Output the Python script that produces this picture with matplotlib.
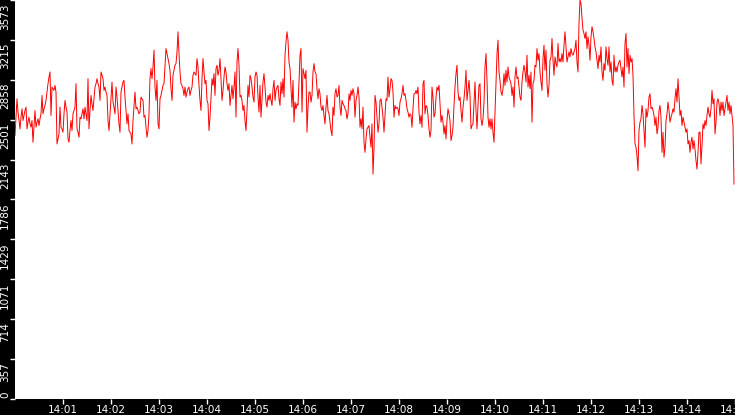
import matplotlib
matplotlib.use("Agg")
import matplotlib.pyplot as plt
import matplotlib.dates as mdates
import matplotlib.transforms as mtransforms
import numpy as np
import pandas as pd

# samples every 1.25 s starting 14:00:00, split in chunks to keep it readable
chunk1 = [2358, 2523, 2688, 2568, 2493, 2418, 2523, 2598, 2493, 2538,
          2583, 2613, 2418, 2478, 2523, 2463, 2433, 2493, 2298, 2448,
          2583, 2433, 2478, 2508, 2448, 2508, 2553, 2718, 2553, 2598,
          2628, 2673, 2748, 2823, 2883, 2928, 2538, 2793, 2778, 2763,
          2808, 2748, 2283, 2328, 2373, 2613, 2433, 2418, 2388, 2553,
          2673, 2613, 2568, 2328, 2298, 2403, 2493, 2403, 2553, 2583,
          2613, 2823, 2418, 2388, 2343, 2523, 2508, 2553, 2598, 2508,
          2613, 2553, 2493, 2868, 2418, 2583, 2718, 2643, 2583, 2688,
          2793, 2823, 2868, 2823, 2793, 2673, 2928, 2898, 2868, 2763,
          2793, 2748, 2718, 2493, 2403, 2553, 2688, 2838, 2658, 2613,
          2553, 2793, 2703, 2583, 2463, 2388, 2748, 2793, 2838, 2853,
          2703, 2583, 2463, 2553, 2403, 2388, 2373, 2283, 2493, 2628,
          2748, 2598, 2613, 2583, 2553, 2568, 2703, 2688, 2673, 2523,
          2538, 2433, 2343, 2403, 2553, 2868, 2958, 2868, 2973, 3123,
          2793, 2673, 2853, 2463, 2418, 2688, 2718, 2763, 2808, 2823,
          2973, 3138, 3093, 3048, 3003, 2943, 2778, 2673, 2898, 2943,
          2988, 3003, 3108, 3288, 3093, 2928, 2823, 2808, 2778, 2718,
          2793, 2703, 2748, 2778, 2793, 2718, 2763, 2793, 2898, 2928,
          2913, 2898, 3048, 2973, 2808]
chunk2 = [2673, 2583, 2868, 3048, 2928, 2823, 2853, 2673, 2643, 2403,
          2523, 2703, 2868, 2808, 2913, 2718, 2958, 2988, 2898, 2943,
          3048, 2868, 2673, 2763, 2883, 2973, 2928, 2823, 2763, 2823,
          2628, 2718, 2808, 2688, 2793, 2928, 2523, 3018, 3138, 2988,
          2703, 2718, 2673, 2583, 2628, 2493, 2403, 2583, 2808, 2703,
          2898, 2868, 2793, 2703, 2658, 2883, 2928, 2898, 2703, 2568,
          2808, 2523, 2688, 2838, 2913, 2793, 2658, 2613, 2718, 2673,
          2733, 2673, 2628, 2778, 2853, 2673, 2763, 2793, 2808, 2688,
          2628, 2838, 2733, 2868, 2703, 3078, 3198, 3288, 3213, 3018,
          2958, 2778, 2613, 2853, 2478, 2658, 2598, 2643, 2628, 2838,
          3078, 3138, 2568, 2958, 2913]
chunk3 = [2868, 2943, 2388, 2613, 2748, 2748, 2658, 2718, 2928, 3003,
          2928, 2913, 2778, 2688, 2778, 2733, 2613, 2583, 2628, 2538,
          2463, 2613, 2718, 2583, 2553, 2478, 2403, 2358, 2613, 2538,
          2733, 2778, 2703, 2718, 2808, 2613, 2538, 2673, 2643, 2628,
          2598, 2583, 2508, 2553, 2733, 2673, 2763, 2718, 2778, 2733,
          2523, 2673, 2718, 2793, 2703, 2433, 2508, 2418, 2613, 2298,
          2208, 2328, 2418, 2433, 2448, 2343, 2253, 2463, 2013, 2238,
          2718, 2658, 2523, 2388, 2463, 2673, 2688, 2613, 2523, 2388,
          2538, 2688, 2673, 2883, 2703, 2778, 2868, 2853, 2748, 2523,
          2628, 2598, 2613, 2598, 2538, 2658, 2688, 2733, 2808, 2718,
          2733, 2673, 2598, 2568, 2523, 2553, 2538, 2433, 2598, 2733]
chunk4 = [2733, 2763, 2733, 2793, 2568, 2463, 2538, 2433, 2823, 2853,
          2553, 2628, 2613, 2538, 2418, 2343, 2403, 2793, 2703, 2523,
          2553, 2703, 2793, 2763, 2808, 2643, 2478, 2538, 2478, 2373,
          2448, 2328, 2493, 2598, 2553, 2493, 2313, 2358, 2433, 2628,
          2793, 2913, 2988, 2748, 2673, 2703, 2583, 2478, 2613, 2688,
          2793, 2943, 2673, 2763, 2853, 2718, 2418, 2448, 2463, 2658,
          2838, 2583, 2418, 2628, 2808, 2823, 2508, 2448, 2508, 2658,
          2973, 3093, 2853, 2523, 2433, 2508, 2418, 2508, 2388, 2298,
          2568, 2838, 3093, 3213, 2928, 2853, 2748, 2718, 2778, 2913,
          2808, 2943, 2838, 2973, 2883, 2853, 2823, 2718, 2793, 2613,
          2883, 2973, 2868, 2883, 2793, 2703, 2673, 2838, 2928, 2988]
chunk5 = [2928, 2838, 3078, 2793, 2898, 2778, 2928, 2478, 2823, 2853,
          2988, 2973, 3138, 3033, 3093, 2928, 2838, 2763, 3048, 3168,
          2943, 3123, 2823, 2703, 2808, 3033, 3063, 3228, 3033, 2898,
          3063, 3003, 2973, 3183, 3018, 3048, 3018, 3093, 3018, 3168,
          3288, 3153, 3018, 3063, 3108, 3063, 3138, 3093, 3078, 3108,
          3138, 3213, 3018, 2928, 3363, 3573, 3543, 3408, 3303, 3273,
          3228, 3288, 3138, 3243, 3168, 3033, 3243, 3333, 3288, 3228,
          3153, 3108, 3033, 2958, 3078, 3018, 3153, 2928, 2853, 3003,
          2943, 3153, 3048, 2988, 3153, 2928, 3018, 2853, 2808, 3078,
          2928, 2973, 2928, 2988, 3018, 3033, 2958, 2883, 2973, 2793,
          3183, 3273, 2973, 3138, 2913, 3078, 3018, 3048, 2898, 2538]
chunk6 = [2283, 2253, 2178, 2043, 2403, 2478, 2508, 2628, 2553, 2403,
          2253, 2598, 2523, 2583, 2703, 2733, 2598, 2613, 2583, 2538,
          2448, 2523, 2373, 2433, 2583, 2628, 2523, 2208, 2388, 2163,
          2253, 2493, 2553, 2658, 2583, 2478, 2523, 2553, 2598, 2568,
          2688, 2778, 2658, 2868, 2703, 2538, 2583, 2448, 2523, 2478,
          2433, 2388, 2418, 2283, 2313, 2208, 2298, 2343, 2238, 2313,
          2238, 2133, 2058, 2208, 2388, 2388, 2103, 2268, 2463, 2418,
          2493, 2448, 2538, 2613, 2553, 2523, 2598, 2763, 2643, 2688,
          2373, 2478, 2658, 2688, 2643, 2538, 2658, 2583, 2658, 2538,
          2598, 2658, 2718, 2583, 2658, 2553, 2628, 2538, 2448, 1923]

ytick_vals = [0, 357, 714, 1071, 1429, 1786, 2143, 2501, 2858, 3215, 3573]
ytick_text = [str(v) for v in ytick_vals]
xtick_minutes = ["14:%02d" % m for m in range(1, 16)]

values = chunk1 + chunk2 + chunk3 + chunk4 + chunk5 + chunk6
times = pd.date_range("2021-06-01 14:00:00", periods=len(values), freq="1250ms")

fig = plt.figure(figsize=(7.35, 4.15), dpi=100, facecolor="black")
ax = fig.add_axes([15 / 735, 16.3 / 415, 720 / 735, 398.7 / 415])
ax.set_facecolor("white")
ax.plot(times, values, color="red", linewidth=0.7)

ax.set_xlim(pd.Timestamp("2021-06-01 14:00:00"), pd.Timestamp("2021-06-01 14:15:00"))
ax.set_ylim(0, 3573)
for s in ax.spines.values():
    s.set_visible(False)

ax.set_xticks([pd.Timestamp("2021-06-01 " + t) for t in xtick_minutes])
ax.xaxis.set_major_formatter(mdates.DateFormatter("%H:%M"))
ax.tick_params(axis="x", colors="white", labelcolor="white", length=3.6, width=1,
               direction="out", pad=1, labelsize=7.5)

# y labels drawn by hand: rotated and hanging just below their tick
ax.set_yticks(ytick_vals)
ax.set_yticklabels([])
ax.tick_params(axis="y", colors="white", length=3.6, width=1, direction="out")
for v, t in zip(ytick_vals, ytick_text):
    if v == 0:
        tr = mtransforms.offset_copy(ax.get_yaxis_transform(), fig=fig, x=-5, y=1, units="dots")
        va = "bottom"
    else:
        tr = mtransforms.offset_copy(ax.get_yaxis_transform(), fig=fig, x=-5, y=-3, units="dots")
        va = "top"
    ax.text(0, v, t, transform=tr, rotation=90, ha="right", va=va,
            color="white", fontsize=7.5, clip_on=False)

fig.savefig("out.png", dpi=100, facecolor="black")
